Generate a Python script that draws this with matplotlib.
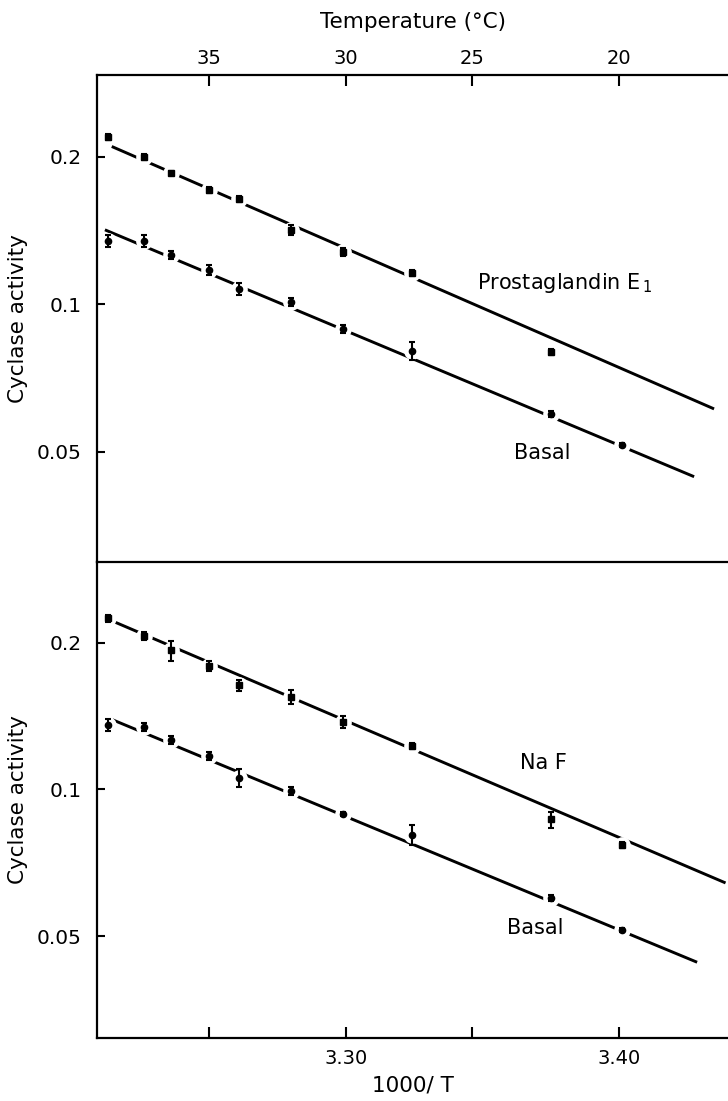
import matplotlib
matplotlib.use('Agg')
import matplotlib.pyplot as plt
from matplotlib.ticker import FixedLocator, NullLocator

plt.rcParams['font.family'] = ['DejaVu Sans']

# =============================================================================
# data
# =============================================================================
inv_t = [3.213, 3.226, 3.236, 3.250, 3.261, 3.280, 3.299, 3.324, 3.375, 3.401]

# upper panel
pge1 = [0.2196, 0.200, 0.1856, 0.171, 0.164, 0.142, 0.128, 0.1157, 0.080]
pge1_err = [0.0031, 0.0028, 0.0017, 0.0024, 0.0023, 0.0033, 0.0024, 0.0016, 0.0011]
basal_a = [0.135, 0.135, 0.1264, 0.1178, 0.1077, 0.1011, 0.089, 0.0804, 0.0598, 0.0516]
basal_a_err = [0.0038, 0.0038, 0.0024, 0.0028, 0.0030, 0.0019, 0.0017, 0.0034, 0.0008, 0.0005]

# lower panel
naf = [0.2244, 0.2064, 0.1929, 0.1792, 0.1635, 0.1547, 0.1375, 0.1227, 0.0868, 0.0769]
naf_err = [0.0042, 0.0039, 0.0091, 0.0042, 0.0046, 0.0051, 0.0039, 0.0017, 0.0033, 0.0011]
basal_b = [0.1355, 0.1344, 0.1266, 0.1174, 0.1056, 0.0995, 0.0889, 0.0806, 0.0599, 0.0514]
basal_b_err = [0.0038, 0.0025, 0.0024, 0.0022, 0.0045, 0.0019, 0.0008, 0.0038, 0.0008, 0.0005]

# fitted lines (end points)
pge1_fit_x, pge1_fit_y = [3.2143, 3.4347], [0.2101, 0.0612]
basal_a_fit_x, basal_a_fit_y = [3.2118, 3.4274], [0.142, 0.0445]
naf_fit_x, naf_fit_y = [3.2146, 3.4389], [0.2216, 0.0643]
basal_b_fit_x, basal_b_fit_y = [3.2146, 3.4285], [0.139, 0.0442]

# axis ticks
x_ticks = [3.25, 3.30, 3.346, 3.40]
x_labels = ['', '3.30', '', '3.40']
temp_labels = ['35', '30', '25', '20']
y_ticks = [0.05, 0.1, 0.2]
y_labels = ['0.05', '0.1', '0.2']

# =============================================================================
# figure
# =============================================================================
W, H = 728, 1101
fig = plt.figure(figsize=(W / 100, H / 100), dpi=100)
left = 97 / W
ax_top = fig.add_axes([left, 1 - 562 / H, 1 - left, (562 - 75) / H])
ax_bot = fig.add_axes([left, 1 - 1038 / H, 1 - left, (1038 - 562) / H])
ax_bot.patch.set_alpha(0)

XLIM = (3.2089, 3.4398)


def style_axis(ax, ylim):
    ax.set_yscale('log')
    ax.set_xlim(*XLIM)
    ax.set_ylim(*ylim)
    ax.yaxis.set_major_locator(FixedLocator(y_ticks))
    ax.yaxis.set_minor_locator(NullLocator())
    ax.set_yticklabels(y_labels)
    ax.spines['right'].set_visible(False)
    for s in ax.spines.values():
        s.set_linewidth(1.6)
    ax.tick_params(axis='y', direction='in', length=6, width=1.5,
                   labelsize=14.5, pad=11)
    ax.set_ylabel('Cyclase activity', fontsize=15.5)
    ax.yaxis.set_label_coords(-0.109, 0.5)


def draw_series(ax, x, y, err, marker):
    # white disk behind each point -> the line is broken around the points
    ax.plot(x, y, linestyle='none', marker='o', ms=12, mfc='white',
            mec='none', zorder=2)
    ax.errorbar(x, y, yerr=err, fmt=marker, color='black', ms=4.5,
                elinewidth=1.5, capsize=2.5, capthick=1.5, zorder=3)


def draw_fit(ax, x, y):
    ax.plot(x, y, color='black', lw=2.1, solid_capstyle='butt', zorder=1)


# ---- upper panel ----
style_axis(ax_top, (0.0298, 0.294))
draw_fit(ax_top, pge1_fit_x, pge1_fit_y)
draw_fit(ax_top, basal_a_fit_x, basal_a_fit_y)
draw_series(ax_top, inv_t[:len(pge1)], pge1, pge1_err, 's')
draw_series(ax_top, inv_t, basal_a, basal_a_err, 'o')

ax_top.xaxis.set_ticks_position('top')
ax_top.xaxis.set_label_position('top')
ax_top.set_xticks(x_ticks)
ax_top.set_xticklabels(temp_labels)
ax_top.xaxis.set_minor_locator(NullLocator())
ax_top.tick_params(axis='x', direction='in', length=8, width=1.5,
                   labelsize=14, pad=5)
ax_top.set_xlabel('Temperature (\u00b0C)', fontsize=15.5, labelpad=15)

ax_top.text(0.602, 0.573, 'Prostaglandin E$_{\\,1}$', transform=ax_top.transAxes,
            ha='left', va='center', fontsize=15)
ax_top.text(0.705, 0.224, 'Basal', transform=ax_top.transAxes,
            ha='center', va='center', fontsize=15)

# ---- lower panel ----
style_axis(ax_bot, (0.0309, 0.293))
ax_bot.spines['top'].set_visible(False)
draw_fit(ax_bot, naf_fit_x, naf_fit_y)
draw_fit(ax_bot, basal_b_fit_x, basal_b_fit_y)
draw_series(ax_bot, inv_t, naf, naf_err, 's')
draw_series(ax_bot, inv_t, basal_b, basal_b_err, 'o')

ax_bot.set_xticks(x_ticks)
ax_bot.set_xticklabels(x_labels)
ax_bot.xaxis.set_minor_locator(NullLocator())
ax_bot.tick_params(axis='x', direction='in', length=8, width=1.5,
                   labelsize=14, pad=8)
ax_bot.set_xlabel('1000/ T', fontsize=15.5, labelpad=5)

ax_bot.text(0.707, 0.578, 'Na F', transform=ax_bot.transAxes,
            ha='center', va='center', fontsize=15)
ax_bot.text(0.694, 0.231, 'Basal', transform=ax_bot.transAxes,
            ha='center', va='center', fontsize=15)

fig.savefig('out.png', dpi=100, facecolor='white')
plt.close(fig)
